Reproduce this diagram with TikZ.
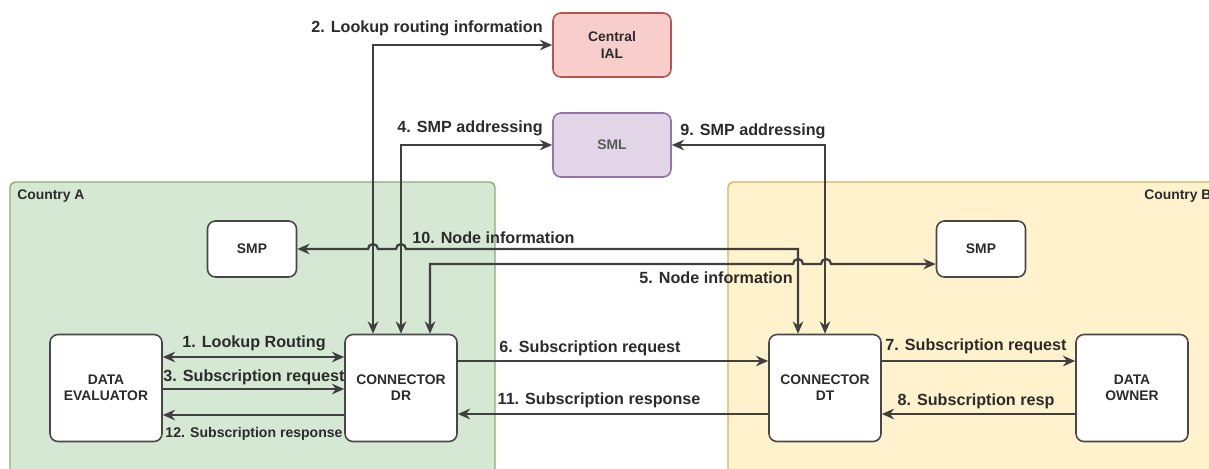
\documentclass[tikz,border=0pt]{standalone}
\usepackage{fontspec}
\setmainfont{Liberation Sans}
\usetikzlibrary{arrows.meta}

\definecolor{greenfill}{HTML}{D5E8D4}
\definecolor{greenline}{HTML}{82B366}
\definecolor{yellowfill}{HTML}{FFF2CC}
\definecolor{yellowline}{HTML}{D6B656}
\definecolor{redfill}{HTML}{F8CECC}
\definecolor{redline}{HTML}{B85450}
\definecolor{violetfill}{HTML}{E1D5E7}
\definecolor{violetline}{HTML}{9673A6}
\definecolor{inkgray}{HTML}{2B2B2B}

\begin{document}
\begin{tikzpicture}[x=0.02cm, y=-0.02cm,
  >={Stealth[length=7pt,width=6pt]},
  box/.style={draw=black!72, line width=0.9pt, rounded corners=4.5pt, fill=white,
    align=center, text=inkgray, inner sep=0pt,
    font=\bfseries\fontsize{7.9}{9.2}\selectfont},
  bigbox/.style={box, minimum width=2.24cm, minimum height=2.14cm},
  smpbox/.style={box, minimum width=1.78cm, minimum height=1.12cm},
  topbox/.style={box, minimum width=2.36cm, minimum height=1.28cm},
  lbl/.style={text=inkgray, inner sep=0pt, font=\bfseries\fontsize{9.2}{11}\selectfont},
  flow/.style={draw=inkgray!90, line width=1.3pt},
]
\useasboundingbox (0,0) rectangle (1209,468);

% countries
\draw[fill=greenfill, draw=greenline, line width=0.8pt, rounded corners=3pt] (10,182) rectangle (495,490);
\draw[fill=yellowfill, draw=yellowline, line width=0.8pt, rounded corners=3pt] (728,182) rectangle (1230,490);
\node[lbl, font=\bfseries\fontsize{7.9}{9}\selectfont, anchor=base west] (ctryA) at (17,199) {Country A};
\node[lbl, font=\bfseries\fontsize{7.9}{9}\selectfont, anchor=base west] (ctryB) at (1144,199) {Country B};

% central services
\node[topbox, fill=redfill, draw=redline] (ial) at (612,45) {Central\\IAL};
\node[topbox, fill=violetfill, draw=violetline, text=black!65] (sml) at (612,145) {SML};

% nodes per country
\node[smpbox] (smpA) at (252,249) {SMP};
\node[smpbox] (smpB) at (981,249) {SMP};

\node[bigbox] (de) at (106,388) {DATA\\EVALUATOR};
\node[bigbox] (dr) at (401,388) {CONNECTOR\\DR};
\node[bigbox] (dt) at (825,388) {CONNECTOR\\DT};
\node[bigbox] (owner) at (1132,388) {DATA\\OWNER};

% evaluator <-> connector DR
\draw[flow, <->] (de.east |- 0,357) -- (dr.west |- 0,357);
\draw[flow, ->] (de.east |- 0,389) -- (dr.west |- 0,389);
\draw[flow, ->] (dr.west |- 0,415) -- (de.east |- 0,415);
\node[lbl, anchor=base] (l1) at (254,347) {1. Lookup Routing};
\node[lbl, anchor=base] (l3) at (254,381) {3. Subscription request};
\node[lbl, font=\bfseries\fontsize{8}{10}\selectfont, anchor=base] (l12) at (254,437) {12. Subscription response};

% lookups
\draw[flow, <->] (dr.north -| 373,0) |- (ial.west);
\draw[flow, <->] (dr.north) |- (sml.west);
\draw[flow, <->] (dt.north) |- (sml.east);
\node[lbl, anchor=base east] (l2) at (543,32) {2. Lookup routing information};
\node[lbl, anchor=base east] (l4) at (543,132) {4. SMP addressing};
\node[lbl, anchor=base west] (l9) at (680,135) {9. SMP addressing};

% node information, with hops
\draw[flow, <->] (dt.north -| 798,0) -- (798,249) -- (406,249)
  arc[start angle=0, end angle=-180, radius=5] -- (378,249)
  arc[start angle=0, end angle=-180, radius=5] -- (smpA.east |- 0,249);
\draw[flow, <->] (dr.north -| 430,0) -- (430,264) -- (793,264)
  arc[start angle=180, end angle=360, radius=5] -- (821,264)
  arc[start angle=180, end angle=360, radius=5] -- (smpB.west |- 0,264);
\node[lbl, anchor=base west] (l10) at (412,243) {10. Node information};
\node[lbl, anchor=base east] (l5) at (793,283) {5. Node information};

% subscription between countries
\draw[flow, ->] (dr.east |- 0,361) -- (dt.west |- 0,361);
\draw[flow, ->] (dt.west |- 0,414) -- (dr.east |- 0,414);
\node[lbl, anchor=base] (l6) at (590,352) {6. Subscription request};
\node[lbl, anchor=base] (l11) at (599,404) {11. Subscription response};

% connector DT <-> owner
\draw[flow, ->] (dt.east |- 0,361) -- (owner.west |- 0,361);
\draw[flow, ->] (owner.west |- 0,414) -- (dt.east |- 0,414);
\node[lbl, anchor=base] (l7) at (976,350) {7. Subscription request};
\node[lbl, anchor=base] (l8) at (976,405) {8. Subscription resp};
\end{tikzpicture}
\end{document}
